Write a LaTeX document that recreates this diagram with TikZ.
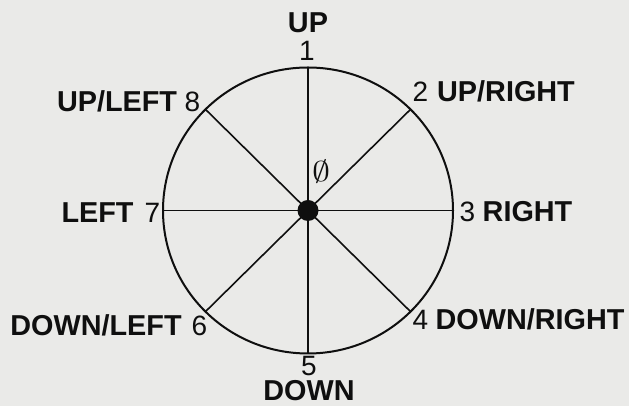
\documentclass[tikz,border=0pt]{standalone}
\usepackage{fontspec}
\usetikzlibrary{calc}
\setmainfont{Liberation Sans}
\definecolor{paper}{RGB}{234,234,232}
\definecolor{ink}{RGB}{15,15,15}
\tikzset{
  word/.style={inner sep=0pt, anchor=base, font=\fontsize{28.8}{30}\selectfont\bfseries, text=ink},
  num/.style={inner sep=0pt, anchor=base, font=\fontsize{28}{30}\selectfont, text=ink},
  spoke/.style={draw=ink, line width=1.6pt},
  rim/.style={draw=ink, line width=2pt},
}
\begin{document}
\begin{tikzpicture}[x=1pt,y=1pt]
\fill[paper] (0,0) rectangle (629,406);
\useasboundingbox (0,0) rectangle (629,406);
\coordinate (c) at (308,195.5);
% spokes
\foreach \a/\n in {0/e,45/ne,90/n,135/nw,180/w,225/sw,270/s,315/se}{
  \coordinate (\n) at ($(c)+(\a:145 and 143)$);
}
\foreach \n in {e,ne,n,nw,w,sw,s,se}{
  \draw[spoke] (c) -- (\n);
}
\draw[rim] (c) ellipse [x radius=145, y radius=143];
\fill[ink] (c) circle [radius=10.5];
% numbers
\node[num] (n1) at (307,345) {1};
\node[num] (n2) at (420.5,304) {2};
\node[num] (n3) at (467.5,184) {3};
\node[num] (n4) at (420.5,76) {4};
\node[num] (n5) at (309,30) {5};
\node[num] (n6) at (199.5,70) {6};
\node[num] (n7) at (152.5,183) {7};
\node[num] (n8) at (192.5,294) {8};
\node[inner sep=0pt, font=\fontsize{24.88}{26}\selectfont, text=ink, xscale=1.45, yscale=1.15, transform shape] (n0) at (322,234) {$\emptyset$};
% words
\node[word] (up) at (308,373) {UP};
\node[word] (upright) at (506,304) {UP/RIGHT};
\node[word] (right) at (527.5,184) {RIGHT};
\node[word] (downright) at (530,76) {DOWN/RIGHT};
\node[word] (down) at (309,5.5) {DOWN};
\node[word] (downleft) at (96,70) {DOWN/LEFT};
\node[word] (left) at (97.5,183) {LEFT};
\node[word] (upleft) at (117,294) {UP/LEFT};
\end{tikzpicture}
\end{document}
